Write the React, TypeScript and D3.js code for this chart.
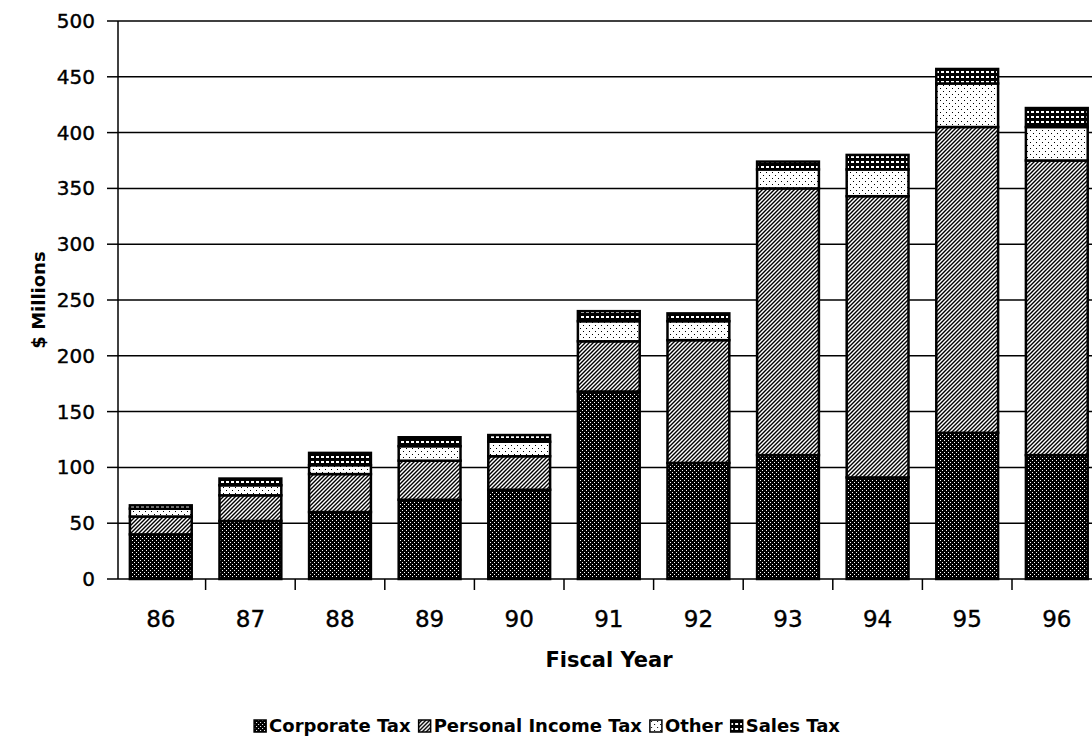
import { useEffect, useRef } from "react";
import * as d3 from "d3";

const years = ["86", "87", "88", "89", "90", "91", "92", "93", "94", "95", "96"];
const corporate = [40, 52, 60, 71, 80, 168, 104, 111, 91, 131, 111];
const personal = [16, 23, 34, 35, 30, 45, 110, 239, 252, 274, 264];
const other = [7, 9, 8, 13, 13, 18, 17, 17, 24, 39, 30];
const sales = [3, 6, 11, 8, 6, 9, 7, 7, 13, 13, 17];
const seriesNames = ["Corporate Tax", "Personal Income Tax", "Other", "Sales Tax"];
const yTicks = [0, 50, 100, 150, 200, 250, 300, 350, 400, 450, 500];

const patternIds = ["pCorp", "pPers", "pOther", "pSales"];

const App = () => {
  const ref = useRef<HTMLDivElement | null>(null);

  function render(svg: any) {
    const width = 1092;
    const height = 739;
    const left = 116;
    const step = 89.6;
    const top = 21;
    const bottom = 579;
    const wide = "'DejaVu Sans', sans-serif";

    svg.attr("width", width).attr("height", height).style("display", "block");

    // patterns
    const defs = svg.append("defs");
    const corp = defs.append("pattern").attr("id", "pCorp").attr("width", 4).attr("height", 4).attr("patternUnits", "userSpaceOnUse");
    corp.append("rect").attr("width", 4).attr("height", 4).attr("fill", "#000");
    corp.append("rect").attr("x", 0).attr("y", 0).attr("width", 1).attr("height", 1).attr("fill", "#fff");
    corp.append("rect").attr("x", 2).attr("y", 2).attr("width", 1).attr("height", 1).attr("fill", "#fff");

    const pers = defs.append("pattern").attr("id", "pPers").attr("width", 4).attr("height", 4).attr("patternUnits", "userSpaceOnUse");
    pers.append("rect").attr("width", 4).attr("height", 4).attr("fill", "#fff");
    pers.append("path").attr("d", "M-1,1 L1,-1 M0,4 L4,0 M3,5 L5,3").attr("stroke", "#000").attr("stroke-width", 1.4);

    const oth = defs.append("pattern").attr("id", "pOther").attr("width", 6).attr("height", 6).attr("patternUnits", "userSpaceOnUse");
    oth.append("rect").attr("width", 6).attr("height", 6).attr("fill", "#fff");
    oth.append("rect").attr("x", 1).attr("y", 1).attr("width", 1).attr("height", 1).attr("fill", "#000");
    oth.append("rect").attr("x", 4).attr("y", 4).attr("width", 1).attr("height", 1).attr("fill", "#000");

    const sal = defs.append("pattern").attr("id", "pSales").attr("width", 5).attr("height", 5).attr("patternUnits", "userSpaceOnUse");
    sal.append("rect").attr("width", 5).attr("height", 5).attr("fill", "#000");
    sal.append("rect").attr("x", 1).attr("y", 1).attr("width", 3).attr("height", 2).attr("fill", "#fff");

    const x = d3
      .scaleBand()
      .domain(years)
      .range([left, left + step * years.length])
      .paddingInner(0.31)
      .paddingOuter(0.155);
    const y = d3.scaleLinear().domain([0, 500]).range([bottom, top]);

    // gridlines
    svg
      .append("g")
      .selectAll("line")
      .data(yTicks.slice(1))
      .join("line")
      .attr("x1", 118)
      .attr("x2", width)
      .attr("y1", (d: number) => y(d))
      .attr("y2", (d: number) => y(d))
      .attr("stroke", "#000")
      .attr("stroke-width", 1.5);

    // y axis
    svg.append("line").attr("x1", 118).attr("x2", 118).attr("y1", top).attr("y2", bottom).attr("stroke", "#000").attr("stroke-width", 1.5);
    yTicks.forEach((t) => {
      svg.append("line").attr("x1", 107).attr("x2", 118).attr("y1", y(t)).attr("y2", y(t)).attr("stroke", "#000").attr("stroke-width", 1.5);
      svg
        .append("text")
        .attr("x", 95)
        .attr("y", y(t) + 7)
        .attr("text-anchor", "end")
        .attr("font-family", wide)
        .attr("font-size", 20)
        .attr("stroke", "#000")
        .attr("stroke-width", 0.4)
        .text(t);
    });

    // bars
    const rows = years.map((yr, i) => ({
      year: yr,
      vals: [corporate[i], personal[i], other[i], sales[i]],
    }));
    rows.forEach((r) => {
      let base = 0;
      const g = svg.append("g");
      r.vals.forEach((v, k) => {
        g.append("rect")
          .attr("x", x(r.year))
          .attr("y", y(base + v))
          .attr("width", x.bandwidth())
          .attr("height", y(base) - y(base + v))
          .attr("fill", `url(#${patternIds[k]})`)
          .attr("stroke", "#000")
          .attr("stroke-width", 2.5);
        base += v;
      });
    });

    // x axis
    svg.append("line").attr("x1", 118).attr("x2", width).attr("y1", bottom).attr("y2", bottom).attr("stroke", "#000").attr("stroke-width", 1.5);
    years.forEach((yr, i) => {
      const bx = left + step * (i + 1);
      svg.append("line").attr("x1", bx).attr("x2", bx).attr("y1", bottom).attr("y2", bottom + 11).attr("stroke", "#000").attr("stroke-width", 1.5);
      svg
        .append("text")
        .attr("x", (x(yr) as number) + x.bandwidth() / 2)
        .attr("y", 627)
        .attr("text-anchor", "middle")
        .attr("font-family", wide)
        .attr("font-size", 23)
        .attr("stroke", "#000")
        .attr("stroke-width", 0.4)
        .text(yr);
    });

    // axis titles
    svg
      .append("text")
      .attr("transform", "translate(45,300) rotate(-90)")
      .attr("text-anchor", "middle")
      .attr("font-family", wide)
      .attr("font-weight", "bold")
      .attr("font-size", 18)
      .text("$ Millions");
    svg
      .append("text")
      .attr("x", 609)
      .attr("y", 667)
      .attr("text-anchor", "middle")
      .attr("font-family", wide)
      .attr("font-weight", "bold")
      .attr("font-size", 21)
      .text("Fiscal Year");

    // legend
    const lg = svg.append("g");
    let lx = 0;
    seriesNames.forEach((name, k) => {
      lg.append("rect")
        .attr("x", lx)
        .attr("y", -12)
        .attr("width", 12)
        .attr("height", 12)
        .attr("fill", `url(#${patternIds[k]})`)
        .attr("stroke", "#000")
        .attr("stroke-width", 1.5);
      const t = lg
        .append("text")
        .attr("x", lx + 15)
        .attr("y", 0)
        .attr("font-family", wide)
        .attr("font-weight", "bold")
        .attr("font-size", 18)
        .text(name);
      lx += 15 + t.node().getComputedTextLength() + 8;
    });
    lg.attr("transform", `translate(${551 - lx / 2},732)`);
  }

  useEffect(() => {
    if (ref.current) {
      const svg = d3.select(ref.current).append("svg");
      render(svg);
      return () => {
        svg.remove();
      };
    }
  }, []);

  return <div ref={ref} style={{ position: "absolute", left: 0, top: 0 }}></div>;
};

export default App;
